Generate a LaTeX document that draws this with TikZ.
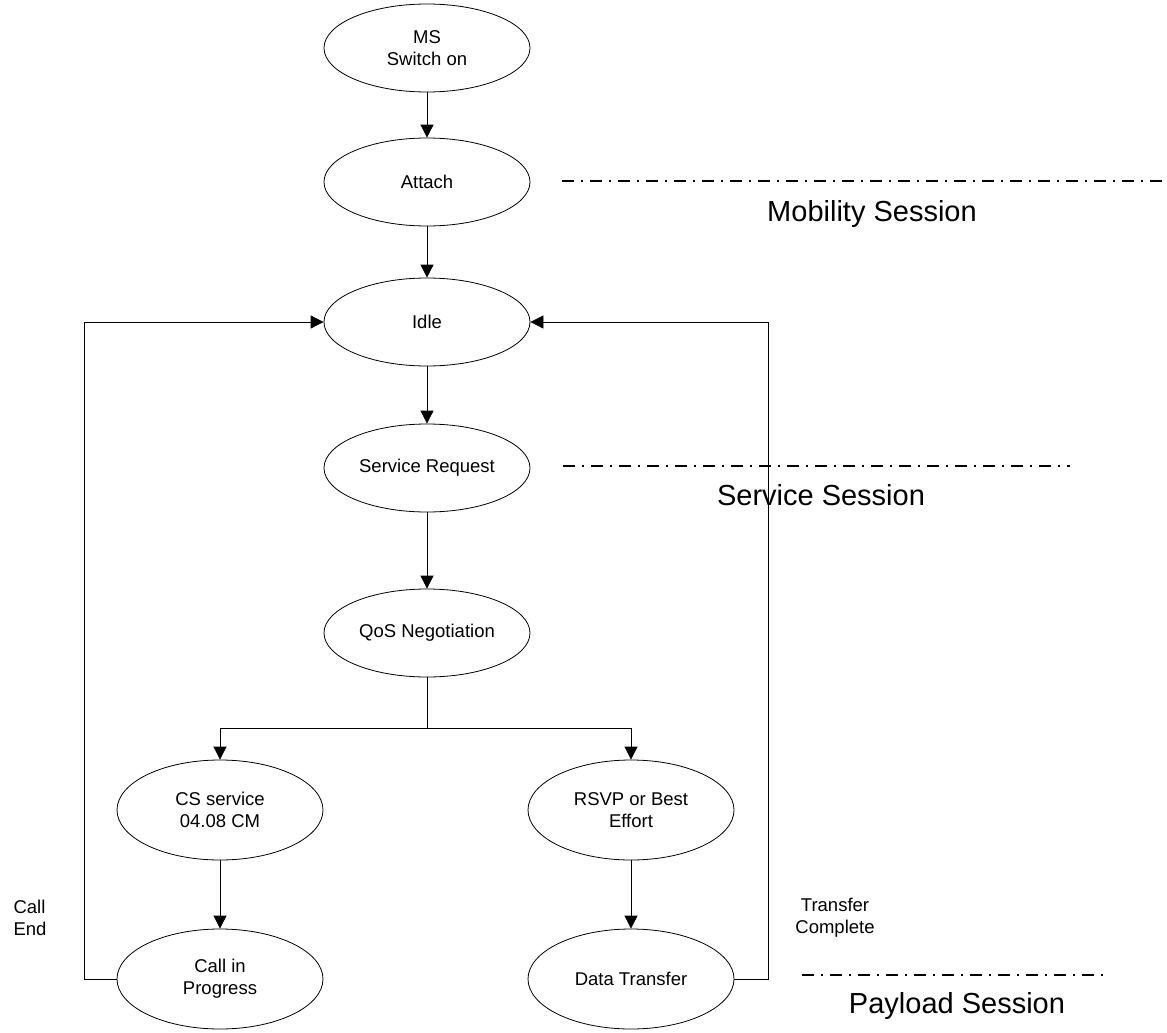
\documentclass[tikz,border=0pt]{standalone}
\usepackage{fontspec}
\setmainfont{Liberation Sans}
\usetikzlibrary{shapes.geometric,arrows.meta}
\begin{document}
\begin{tikzpicture}[x=1pt,y=-1pt,
  state/.style={draw,ellipse,line width=0.8pt,minimum width=206pt,minimum height=88pt,
    inner sep=0pt,align=center,font=\fontsize{18.5}{22}\selectfont},
  bigstate/.style={state,minimum height=100pt},
  flow/.style={line width=0.8pt,-{Triangle[length=13pt,width=13pt]}},
  link/.style={line width=0.8pt},
  divider/.style={line width=1.4pt,dash pattern=on 12pt off 7pt on 2pt off 7pt},
  session/.style={anchor=base,font=\fontsize{29}{34}\selectfont},
  note/.style={font=\fontsize{18.5}{22}\selectfont}]
\useasboundingbox (0,0) rectangle (1167,1033);

% states
\node[state] (ms)     at (427,48)  {MS\\Switch on};
\node[state] (attach) at (427,182) {Attach};
\node[state] (idle)   at (427,322) {Idle};
\node[state] (sreq)   at (427,468) {Service Request};
\node[state] (qos)    at (427,633) {QoS Negotiation};
\node[bigstate] (cs)   at (220,810) {CS service\\04.08 CM};
\node[bigstate] (rsvp) at (631,810) {RSVP or Best\\Effort};
\node[bigstate] (call) at (220,979) {Call in\\Progress};
\node[bigstate] (data) at (631,979) {Data Transfer};

% routing points
\coordinate (branch) at (427,728);
\coordinate (leftrail) at (84,0);
\coordinate (rightrail) at (768,0);

% main flow
\draw[flow] (ms) -- (attach);
\draw[flow] (attach) -- (idle);
\draw[flow] (idle) -- (sreq);
\draw[flow] (sreq) -- (qos);
\draw[link] (qos) -- (branch);
\draw[flow] (branch) -| (cs);
\draw[flow] (branch) -| (rsvp);
\draw[flow] (cs) -- (call);
\draw[flow] (rsvp) -- (data);

% return paths to idle
\draw[flow] (call.west) -- (call.west -| leftrail) |- (idle.west);
\draw[flow] (data.east) -- (data.east -| rightrail) |- (idle.east);

% transition labels
\node[note,align=left,anchor=west] (callend) at (10,918) {Call\\End};
\node[note,align=center] (xfer) at (835,918) {Transfer\\Complete};

% session dividers
\coordinate (m1) at (562,181);  \coordinate (m2) at (1167,181);
\coordinate (s1) at (563,466);  \coordinate (s2) at (1070,466);
\coordinate (p1) at (802,975);  \coordinate (p2) at (1108,975);
\draw[divider] (m1) -- (m2);
\draw[divider] (s1) -- (s2);
\draw[divider] (p1) -- (p2);
\node[session] (mob) at (872,221)  {Mobility Session};
\node[session] (ser) at (821,505)  {Service Session};
\node[session] (pay) at (957,1013) {Payload Session};
\end{tikzpicture}
\end{document}
